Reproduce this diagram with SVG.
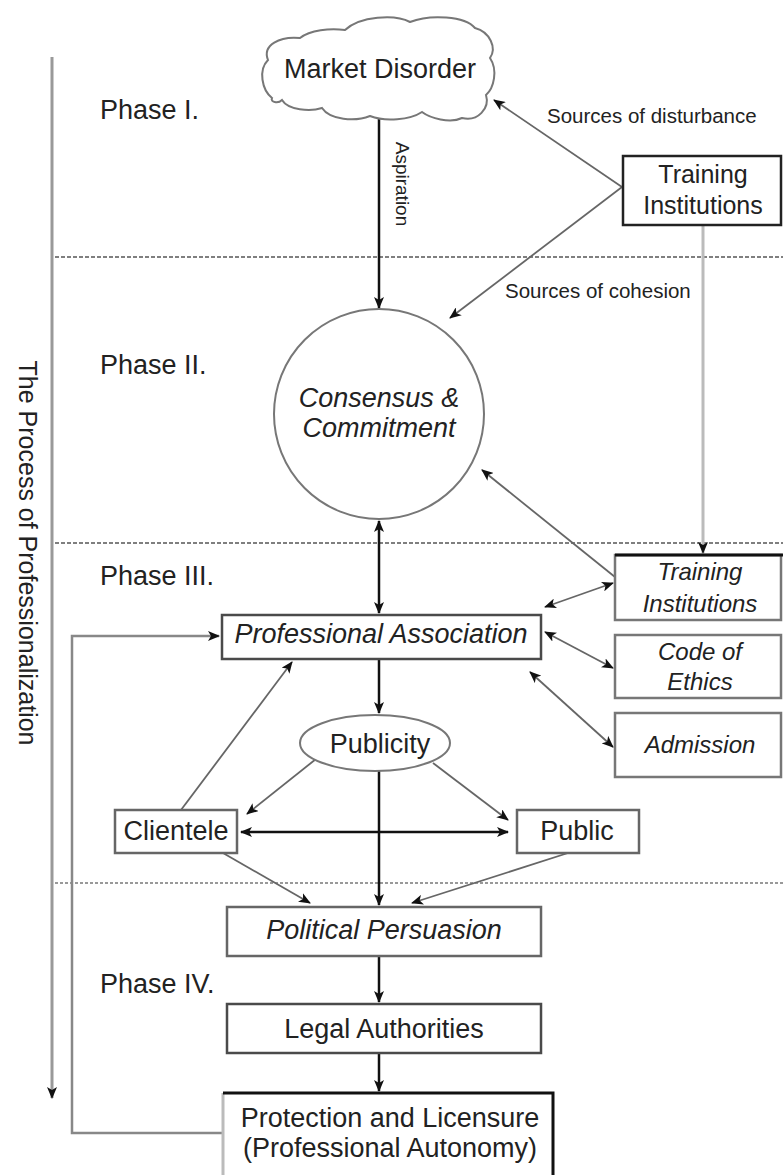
<svg xmlns="http://www.w3.org/2000/svg" width="783" height="1175" viewBox="0 0 783 1175">
  <defs>
    <marker id="ah" viewBox="0 0 12 10" refX="11" refY="5" markerUnits="userSpaceOnUse" markerWidth="12" markerHeight="10" orient="auto-start-reverse">
      <path d="M0,0 L12,5 L0,10 L3,5 z" fill="#111"/>
    </marker>
    <style>
      text { font-family: "Liberation Sans", Arial, sans-serif; fill: #222; }
      .lbl { font-size: 27px; text-anchor: middle; }
      .it { font-style: italic; }
      .sm { font-size: 24px; text-anchor: middle; font-style: italic; }
      .note { font-size: 20.5px; }
      .phase { font-size: 27px; }
      .box { fill: #fff; stroke: #4a4a4a; stroke-width: 2.5; }
      .sep { stroke: #555; stroke-width: 1.5; stroke-dasharray: 4 2; fill: none; }
      .main { stroke: #111; stroke-width: 2.5; fill: none; }
      .thin { stroke: #666; stroke-width: 1.8; fill: none; }
      .grey { stroke: #999; stroke-width: 3; fill: none; }
    </style>
  </defs>

  <!-- phase separators -->
  <g id="phase-lines">
    <line class="sep" x1="55" y1="257" x2="783" y2="257"/>
    <line class="sep" x1="55" y1="543" x2="783" y2="543"/>
    <line class="sep" x1="55" y1="883" x2="783" y2="883" style="stroke:#999;stroke-width:2;stroke-dasharray:3 2"/>
  </g>

  <!-- phase labels and axis title -->
  <g id="labels">
    <text class="phase" x="100" y="119">Phase I.</text>
    <text class="phase" x="100" y="374">Phase II.</text>
    <text class="phase" x="100" y="585">Phase III.</text>
    <text class="phase" x="100" y="993">Phase IV.</text>
    <text transform="translate(19,553) rotate(90)" style="font-size:25px;text-anchor:middle">The Process of Professionalization</text>
    <text transform="translate(396,184) rotate(90)" style="font-size:19px;text-anchor:middle">Aspiration</text>
    <text class="note" x="547" y="123">Sources of disturbance</text>
    <text class="note" x="505" y="298">Sources of cohesion</text>
  </g>

  <!-- connectors -->
  <g id="connectors">
    <path class="grey" d="M52,57 V1098" marker-end="url(#ah)"/>
    <path class="main" d="M379,118 V308" marker-end="url(#ah)"/>
    <path class="thin" d="M622,187 L494,100" marker-end="url(#ah)"/>
    <path class="thin" d="M622,187 L450,318" marker-end="url(#ah)"/>
    <path d="M703,225 V553" stroke="#bbb" stroke-width="3" fill="none" marker-end="url(#ah)"/>
    <path class="main" d="M379,521 V613" marker-start="url(#ah)" marker-end="url(#ah)"/>
    <path class="thin" d="M615,577 L482,470" marker-end="url(#ah)"/>
    <path class="thin" d="M545,607 L613,583" marker-start="url(#ah)" marker-end="url(#ah)"/>
    <path class="thin" d="M545,632 L613,668" marker-start="url(#ah)" marker-end="url(#ah)"/>
    <path class="thin" d="M530,672 L613,747" marker-start="url(#ah)" marker-end="url(#ah)"/>
    <path class="main" d="M379,659 V713" marker-end="url(#ah)"/>
    <path class="thin" d="M316,759 L247,814" marker-end="url(#ah)"/>
    <path class="thin" d="M433,763 L508,820" marker-end="url(#ah)"/>
    <path class="main" d="M241,832 H508" marker-start="url(#ah)" marker-end="url(#ah)"/>
    <path class="thin" d="M181,810 L292,662" marker-end="url(#ah)"/>
    <path class="thin" d="M223,853 L310,903" marker-end="url(#ah)"/>
    <path class="thin" d="M568,853 L412,903" marker-end="url(#ah)"/>
    <path class="main" d="M379,771 V905" marker-end="url(#ah)"/>
    <path class="main" d="M379,956 V1002" marker-end="url(#ah)"/>
    <path class="main" d="M379,1053 V1091" marker-end="url(#ah)"/>
    <path d="M223,1133 H72 V636 H219" stroke="#888" stroke-width="2.5" fill="none" marker-end="url(#ah)"/>
  </g>

  <g id="market-disorder">
    <path d="M272,98 C262,90 258,70 268,60 C262,45 280,36 300,38 C310,30 330,28 345,30 C360,16 395,14 410,22 C430,14 465,16 475,28 C490,32 497,48 490,58 C498,70 494,88 486,95 C490,108 478,122 462,118 C450,124 430,118 422,112 C410,120 385,122 370,116 C355,122 330,120 322,108 C310,112 288,110 282,100 C278,104 270,102 272,98 Z" fill="#fff" stroke="#777" stroke-width="2"/>
    <text class="lbl" x="380" y="78">Market Disorder</text>
  </g>

  <g id="training-top">
    <rect x="623" y="156" width="158" height="69" fill="#fff" stroke="#222" stroke-width="2.5"/>
    <text class="lbl" x="703" y="183" style="font-size:25px">Training</text>
    <text class="lbl" x="703" y="214" style="font-size:25px">Institutions</text>
  </g>

  <g id="consensus">
    <circle cx="379" cy="414" r="105" fill="#fff" stroke="#777" stroke-width="2"/>
    <text class="lbl it" x="379" y="407">Consensus &amp;</text>
    <text class="lbl it" x="379" y="437">Commitment</text>
  </g>

  <g id="training-lower">
    <rect class="box" x="615" y="555" width="166" height="65" style="stroke:#777"/>
    <line x1="615" y1="555" x2="783" y2="555" stroke="#111" stroke-width="3"/>
    <text class="sm" x="700" y="580">Training</text>
    <text class="sm" x="700" y="612">Institutions</text>
  </g>

  <g id="code-of-ethics">
    <rect class="box" x="615" y="635" width="166" height="63" style="stroke:#777"/>
    <text class="sm" x="700" y="660">Code of</text>
    <text class="sm" x="700" y="690">Ethics</text>
  </g>

  <g id="admission">
    <rect class="box" x="615" y="713" width="166" height="64" style="stroke:#777"/>
    <text class="sm" x="700" y="753">Admission</text>
  </g>

  <g id="professional-association">
    <rect class="box" x="222" y="615" width="319" height="44"/>
    <text class="lbl it" x="381" y="643">Professional Association</text>
  </g>

  <g id="publicity">
    <ellipse cx="375" cy="743" rx="75" ry="28" fill="#fff" stroke="#777" stroke-width="2"/>
    <text class="lbl" x="380" y="753">Publicity</text>
  </g>

  <g id="clientele">
    <rect class="box" x="115" y="810" width="122" height="43" style="stroke:#666"/>
    <text class="lbl" x="176" y="840">Clientele</text>
  </g>

  <g id="public">
    <rect class="box" x="517" y="810" width="122" height="43" style="stroke:#666"/>
    <text class="lbl" x="577" y="840">Public</text>
  </g>

  <g id="political-persuasion">
    <rect class="box" x="227" y="907" width="314" height="49" style="stroke:#666"/>
    <text class="lbl it" x="384" y="939">Political Persuasion</text>
  </g>

  <g id="legal-authorities">
    <rect class="box" x="227" y="1004" width="314" height="49"/>
    <text class="lbl" x="384" y="1038">Legal Authorities</text>
  </g>

  <g id="protection">
    <rect x="223" y="1093" width="330" height="90" fill="#fff" stroke="none"/>
    <path d="M223,1180 V1093" stroke="#bbb" stroke-width="3" fill="none"/>
    <path d="M223,1093 H553 V1180" stroke="#111" stroke-width="3" fill="none"/>
    <text class="lbl" x="390" y="1127">Protection and Licensure</text>
    <text class="lbl" x="390" y="1157">(Professional Autonomy)</text>
  </g>
</svg>
